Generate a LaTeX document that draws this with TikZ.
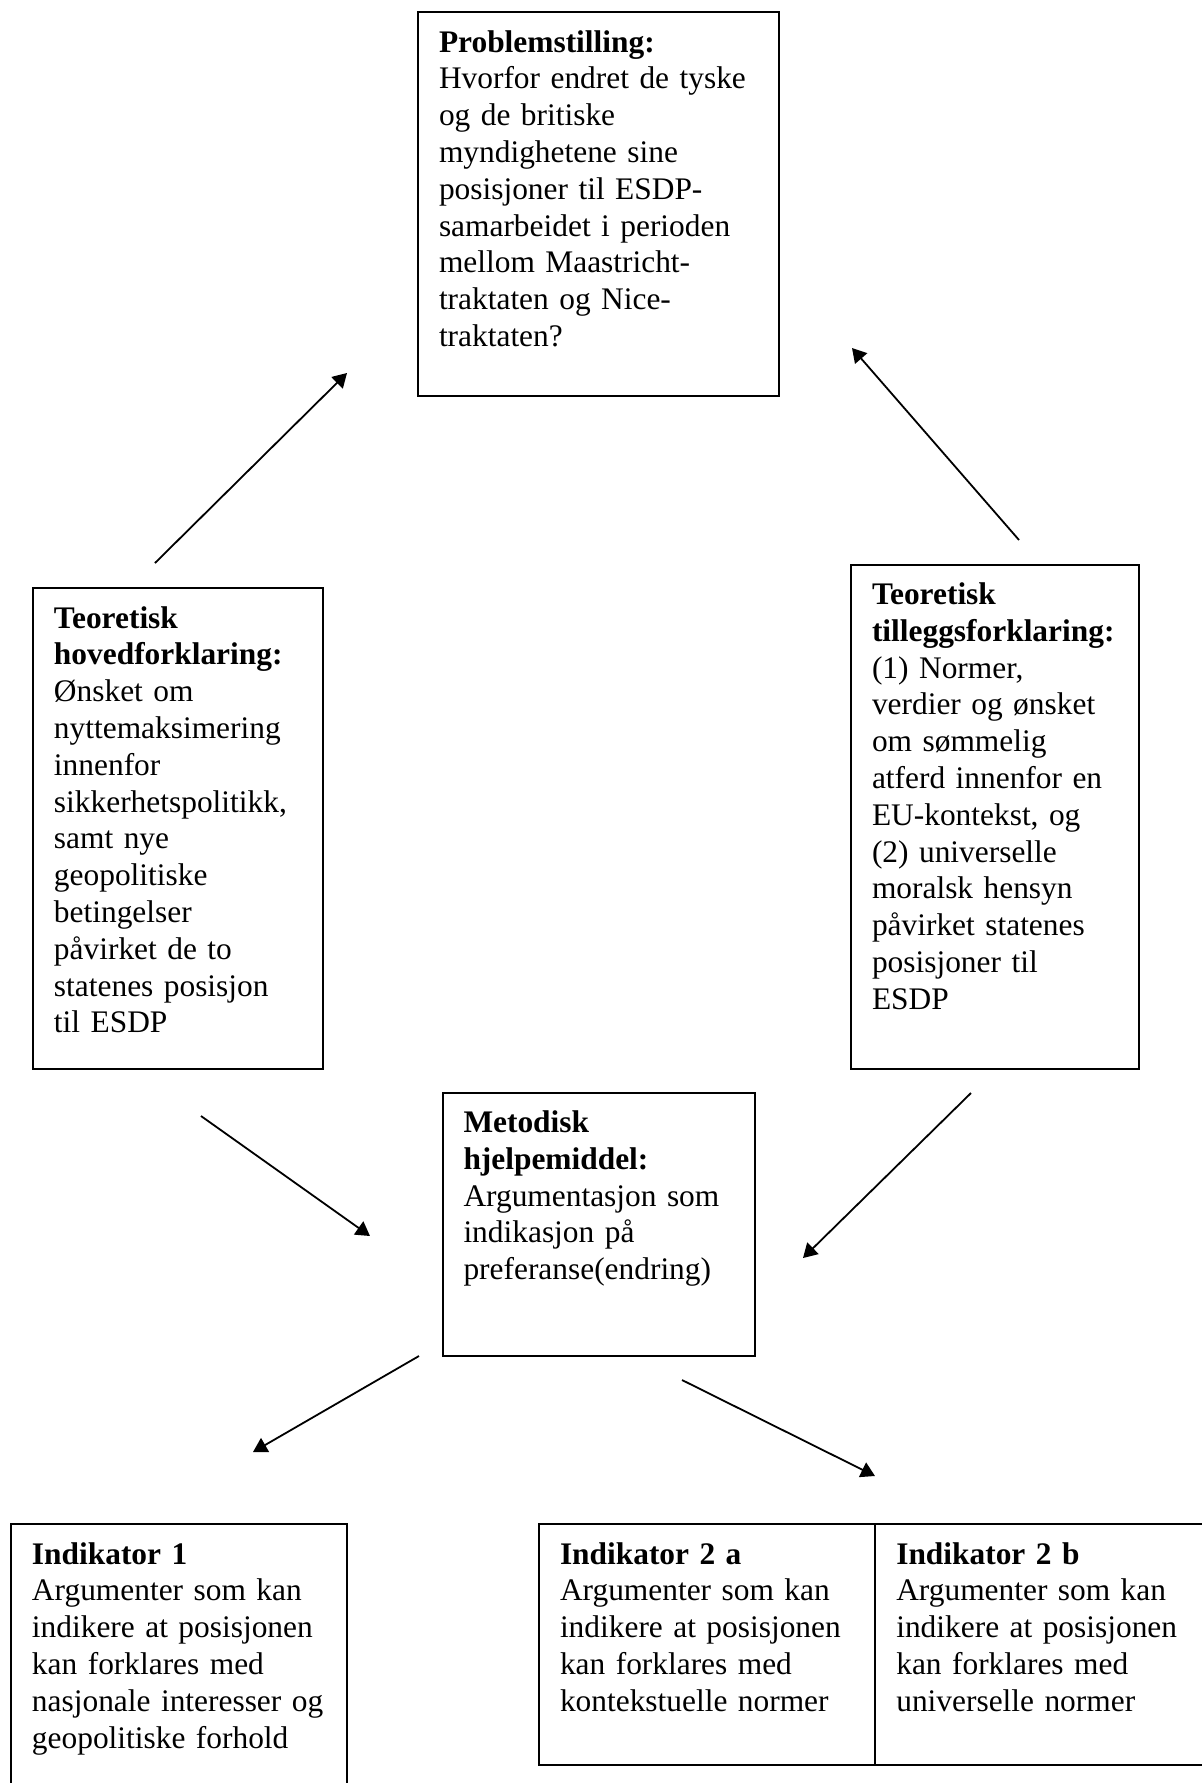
\documentclass[tikz,border=0pt]{standalone}
\usepackage{fontspec}
\setmainfont{Liberation Serif}
\usetikzlibrary{arrows.meta, positioning}
\tikzstyle{boks}=[draw,rectangle,anchor=north west,align=left,outer sep=0pt,inner xsep=10.5pt,inner ysep=0pt,text height=20pt,line width=1pt]
\tikzstyle{every node}=[font=\fontsize{15.7pt}{18.4pt}\selectfont]

\begin{document}
\begin{tikzpicture}[x=0.5pt,y=-0.5pt,>={Triangle[length=7pt,width=8pt]},line width=0.9pt]
    \useasboundingbox (0,0) rectangle (1202,1783);
    \clip (0,0) rectangle (1202,1783);

    \node[boks, text width=159.5pt, text depth=172pt] (problem) at (418,12)
        {\textbf{Problemstilling:}\\Hvorfor endret de tyske\\og de britiske\\myndighetene sine\\posisjoner til ESDP-\\samarbeidet i perioden\\mellom Maastricht-\\traktaten og Nice-\\traktaten?};
    \node[boks, text width=123.75pt, text depth=220.5pt] (hoved) at (33,588)
        {\textbf{Teoretisk}\\\textbf{hovedforklaring:}\\Ønsket om\\nyttemaksimering\\innenfor\\sikkerhetspolitikk,\\samt nye\\geopolitiske\\betingelser\\påvirket de to\\statenes posisjon\\til ESDP};
    \node[boks, text width=123.15pt, text depth=232pt] (tillegg) at (851,564.5)
        {\textbf{Teoretisk}\\\textbf{tilleggsforklaring:}\\(1) Normer,\\verdier og ønsket\\om sømmelig\\atferd innenfor en\\EU-kontekst, og\\(2) universelle\\moralsk hensyn\\påvirket statenes\\posisjoner til\\ESDP};
    \node[boks, text width=135pt, text depth=111.9pt] (metode) at (442.5,1092.5)
        {\textbf{Metodisk}\\\textbf{hjelpemiddel:}\\Argumentasjon som\\indikasjon på\\preferanse(endring)};

    \node[boks, text width=147pt, text depth=118pt] (ind1) at (11,1524)
        {\textbf{Indikator 1}\\Argumenter som kan\\indikere at posisjonen\\kan forklares med\\nasjonale interesser og\\geopolitiske forhold};
    \node[boks, text width=147.15pt, text depth=100.5pt] (ind2a) at (539,1524)
        {\textbf{Indikator 2 a}\\Argumenter som kan\\indikere at posisjonen\\kan forklares med\\kontekstuelle normer};
    \node[boks, text width=150pt, text depth=100.5pt, right=0pt of ind2a] (ind2b)
        {\textbf{Indikator 2 b}\\Argumenter som kan\\indikere at posisjonen\\kan forklares med\\universelle normer};

    % loose arrows between the boxes
    \coordinate (h1) at (155,563);
    \coordinate (h2) at (347,373);
    \coordinate (t1) at (1019,540);
    \coordinate (t2) at (852,348);
    \draw[->] (h1) -- (h2);
    \draw[->] (t1) -- (t2);

    \coordinate (h3) at (201,1116);
    \coordinate (h4) at (370,1236);
    \coordinate (t3) at (971,1093);
    \coordinate (t4) at (803,1258);
    \draw[->] (h3) -- (h4);
    \draw[->] (t3) -- (t4);

    \coordinate (m1) at (419,1356);
    \coordinate (m2) at (253,1452);
    \coordinate (m3) at (682,1380);
    \coordinate (m4) at (875,1476);
    \draw[->] (m1) -- (m2);
    \draw[->] (m3) -- (m4);
\end{tikzpicture}
\end{document}
